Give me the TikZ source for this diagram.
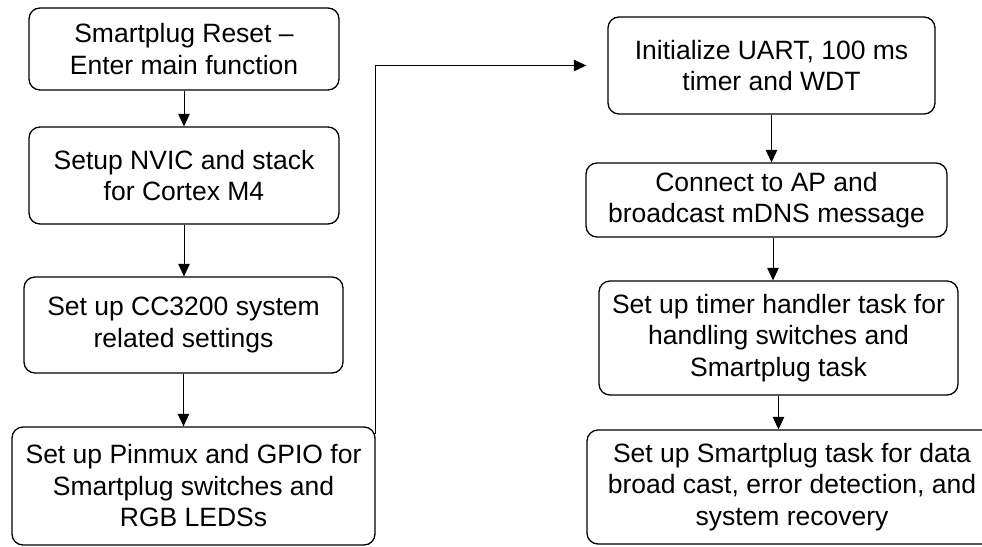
\documentclass[tikz,border=0pt]{standalone}
\usepackage{fontspec}
\setmainfont{Liberation Sans}
\usetikzlibrary{arrows.meta}

\tikzset{
  stepbox/.style={draw=black, line width=1.3pt, rounded corners=11pt, fill=white,
    align=center, inner sep=0pt, text=black,
    font=\fontsize{26.5}{31.5}\selectfont},
  conn/.style={draw=black, line width=0.9pt,
    -{Triangle[length=12.5pt, width=11.5pt]}},
}

\begin{document}
\begin{tikzpicture}[x=1pt, y=-1pt]
  \clip (0,0) rectangle (982,546);
  \fill[white] (0,0) rectangle (982,546);

  % left column
  \node[stepbox, minimum width=310pt, minimum height=82pt] (b1) at (184,49)
    {Smartplug Reset --\\Enter main function};
  \node[stepbox, minimum width=310pt, minimum height=97pt] (b2) at (184,175.5)
    {Setup NVIC and stack\\for Cortex M4};
  \node[stepbox, minimum width=319pt, minimum height=96pt] (b3) at (183.5,325)
    {Set up CC3200 system\\related settings};
  \node[stepbox, minimum width=363pt, minimum height=118pt] (b4) at (193.5,486)
    {Set up Pinmux and GPIO for\\Smartplug switches and\\RGB LEDSs};

  % right column
  \node[stepbox, minimum width=327pt, minimum height=97pt] (b5) at (771.5,65.5)
    {Initialize UART, 100 ms\\timer and WDT};
  \node[stepbox, minimum width=361pt, minimum height=74pt] (b6) at (766.5,200)
    {Connect to AP and\\broadcast mDNS message};
  \node[stepbox, minimum width=359pt, minimum height=114pt] (b7) at (778.5,338)
    {Set up timer handler task for\\handling switches and\\Smartplug task};
  \node[stepbox, minimum width=410pt, minimum height=114pt] (b8) at (792,487)
    {Set up Smartplug task for data\\broad cast, error detection, and\\system recovery};

  % connectors
  \draw[conn] (b1.south) -- (b1.south |- b2.north);
  \draw[conn] (b2.south) -- (b2.south |- b3.north);
  \draw[conn] (b3.south) -- (b3.south |- b4.north);
  \draw[conn, shorten >=21pt] ([yshift=-8pt]b4.north east) |- (b5.west);
  \draw[conn] (b5.south) -- (b5.south |- b6.north);
  \draw[conn] ([xshift=6.5pt]b6.south) -- ([xshift=6.5pt]b6.south |- b7.north);
  \draw[conn] (b7.south) -- (b7.south |- b8.north);
\end{tikzpicture}
\end{document}
